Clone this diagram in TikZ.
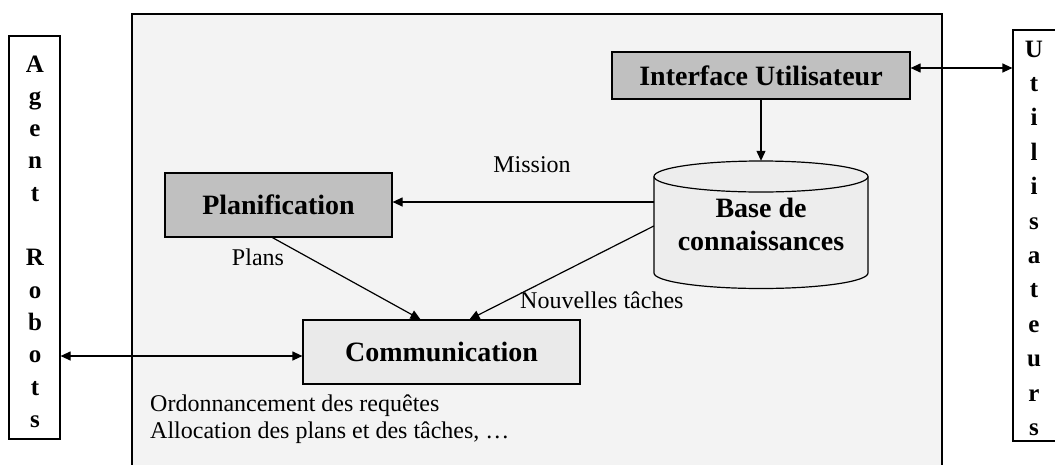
\documentclass[tikz,border=0pt]{standalone}
\usepackage{fontspec}
\setmainfont{Liberation Serif}
\usepackage{tikz}
\usetikzlibrary{positioning, arrows.meta, calc}
\definecolor{fondcadre}{HTML}{F3F3F3}
\definecolor{blocfonce}{HTML}{C0C0C0}
\definecolor{blocclair}{HTML}{EAEAEA}
\definecolor{cylclair}{HTML}{EDEDED}
\tikzset{
	>={Triangle[length=10pt, width=9pt]},
	% cadre du systeme
	cadre/.style={draw, line width=1.2pt, fill=fondcadre},
	% bloc fonce (composant)
	blocf/.style={draw, line width=1.2pt, rectangle, fill=blocfonce, inner sep=0pt,
	              font=\fontsize{28}{30}\selectfont\bfseries},
	% bloc clair
	blocc/.style={draw, line width=1.2pt, rectangle, fill=blocclair, inner sep=0pt,
	              font=\fontsize{28}{30}\selectfont\bfseries},
	% acteur externe (texte vertical)
	acteur/.style={draw, line width=1.2pt, rectangle, fill=white, inner sep=0pt},
	lettre/.style={anchor=base, inner sep=0pt, font=\fontsize{25}{27}\selectfont\bfseries},
	% base de donnees
	cyl/.style={draw, line width=1.2pt, fill=cylclair},
	% fleche
	fl/.style={->, line width=1.2pt},
	% etiquette
	etiq/.style={inner sep=0pt, font=\fontsize{24}{27}\selectfont},
}

\begin{document}
\begin{tikzpicture}[x=1pt, y=1pt]
    \useasboundingbox (0,0) rectangle (1055,-464);
    \clip (0,0) rectangle (1055,-464);
    % cadre
    \draw[cadre] (132,-14) rectangle (942,-480);
    % acteurs
    \node[acteur, minimum width=51pt, minimum height=403pt] (agent) at (34.5,-237.5) {};
    \node[acteur, minimum width=60pt, minimum height=411pt] (users) at (1043,-235.5) {};
    \foreach \l/\i in {A/0,g/1,e/2,n/3,t/4,R/6,o/7,b/8,o/9,t/10,s/11}
      \node[lettre] (ag-\i) at (35,-72-32.3*\i) {\l};
    \foreach \l/\i in {U/0,t/1,i/2,l/3,i/4,s/5,a/6,t/7,e/8,u/9,r/10,s/11}
      \node[lettre] (ut-\i) at (1034,-57-34.4*\i) {\l};
    % blocs
    \node[blocf, minimum width=298pt, minimum height=47pt] (interf) at (761,-75.5) {Interface Utilisateur};
    \node[blocf, minimum width=227pt, minimum height=64pt] (plan) at (278.5,-205) {Planification};
    \node[blocc, minimum width=277pt, minimum height=64pt] (comm) at (441.5,-352) {Communication};
    % base de connaissances
    \draw[cyl] (654,-176.5) -- (654,-273) arc[start angle=180, end angle=360, x radius=107, y radius=15.5] -- (868,-176.5);
    \draw[cyl] (761,-176.5) ellipse[x radius=107, y radius=15.5];
    \node[inner sep=0pt, minimum width=214pt, minimum height=127pt, align=center,
          font=\fontsize{28}{33}\selectfont\bfseries] (base) at (761,-224.5) {Base de\\connaissances};
    % liaisons
    \draw[fl, <->] ($(interf.east)+(0,7.5)$) -- ($(users.west)+(0,167.5)$);
    \draw[fl] (interf.south) -- (base.north);
    \draw[fl] ($(base.west)+(0,22.5)$) -- ($(plan.east)+(0,3)$);
    \draw[fl] ($(plan.south)+(-6,0)$) -- ($(comm.north)+(-21,0)$);
    \draw[fl] ($(base.west)+(0,-1.5)$) -- ($(comm.north)+(28,0)$);
    \draw[fl, <->] ($(agent.east)+(0,-118.5)$) -- ($(comm.west)+(0,-4)$);
    % etiquettes
    \node[etiq] (mission) at (532,-165) {Mission};
    \node[etiq] (plans) at (258,-257) {Plans};
    \node[etiq, anchor=west] (nouv) at (520,-300) {Nouvelles tâches};
    \node[etiq, anchor=base west] (ordo) at (150,-411) {Ordonnancement des requêtes};
    \node[etiq, anchor=base west] (alloc) at (150,-438) {Allocation des plans et des tâches, …};
\end{tikzpicture}
\end{document}
